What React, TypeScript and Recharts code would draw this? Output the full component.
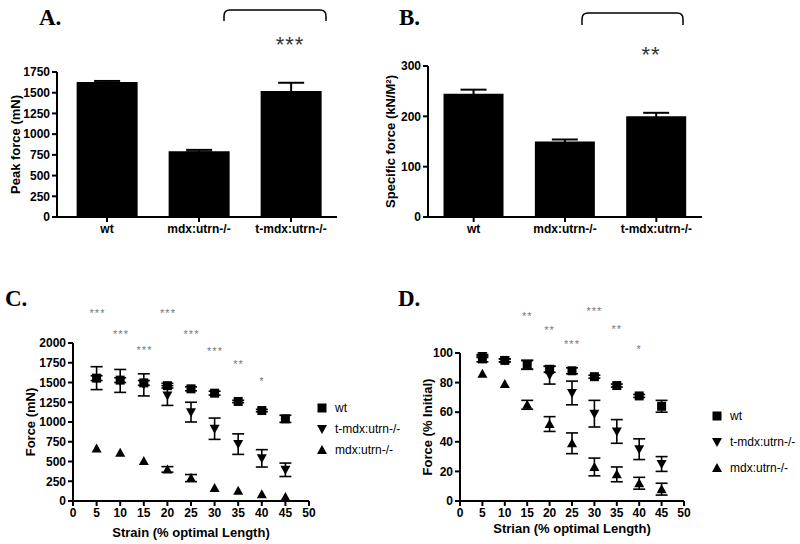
import React from "react";
import {
  BarChart,
  Bar,
  ScatterChart,
  Scatter,
  XAxis,
  YAxis,
  ErrorBar,
} from "recharts";

// panels A and B
const groups = ["wt", "mdx:utrn-/-", "t-mdx:utrn-/-"];
const peakForce = [1630, 795, 1520];
const peakForceErr = [12, 15, 100];
const specificForce = [245, 150, 200];
const specificForceErr = [8, 4, 7];

// panels C and D
const strain = [5, 10, 15, 20, 25, 30, 35, 40, 45];
const forceWt = [1555, 1530, 1495, 1460, 1420, 1365, 1260, 1145, 1040];
const forceWtErr = [30, 30, 30, 30, 25, 25, 15, 15, 45];
const forceTmdx = [1555, 1520, 1470, 1335, 1125, 915, 720, 540, 395];
const forceTmdxErr = [145, 145, 140, 125, 125, 135, 130, 110, 85];
const forceMdx = [665, 610, 505, 400, 290, 165, 130, 85, 50];
const forceMdxErr = [0, 0, 0, 35, 45, 0, 0, 0, 0];

const pctWt = [96, 95, 92, 89, 88, 84, 78, 71, 64];
const pctWtErr = [2, 1, 3, 2, 2, 1, 1, 1, 4];
const pctTmdx = [98, 95, 92, 85, 73, 59, 47, 35, 25];
const pctTmdxErr = [1, 1, 3, 6, 8, 9, 8, 7, 5];
const pctMdx = [86, 79, 65, 52, 39, 23, 18, 12, 8];
const pctMdxErr = [0, 0, 3, 5, 7, 6, 5, 4, 4];

const starsC = ["***", "***", "***", "***", "***", "***", "**", "*"];
const starsD = ["", "", "**", "**", "***", "***", "**", "*"];
const strainTicks = [0, 5, 10, 15, 20, 25, 30, 35, 40, 45, 50];

const FONT = "'Liberation Sans', Arial, sans-serif";
const tick = { fill: "#000", fontSize: 12, fontWeight: 700, fontFamily: FONT };
const axisLine = { stroke: "#000", strokeWidth: 2 };
const labelStyle = { fill: "#000", fontSize: 13, fontWeight: 700, fontFamily: FONT, textAnchor: "middle" as const };

const barA = groups.map((name, i) => ({ name, value: peakForce[i], err: peakForceErr[i] }));
const barB = groups.map((name, i) => ({ name, value: specificForce[i], err: specificForceErr[i] }));

const pts = (ys: number[], es: number[]) => strain.map((x, i) => ({ x, y: ys[i], err: es[i] }));

const Square = (p: any) => <rect x={p.cx - 4.5} y={p.cy - 4.5} width={9} height={9} fill="#000" />;
const Up = (p: any) => (
  <path d={`M${p.cx},${p.cy - 5}L${p.cx + 5},${p.cy + 4}L${p.cx - 5},${p.cy + 4}Z`} fill="#000" />
);
const Down = (p: any) => (
  <path d={`M${p.cx - 5},${p.cy - 4}L${p.cx + 5},${p.cy - 4}L${p.cx},${p.cy + 5}Z`} fill="#000" />
);

const PanelTitle = ({ text, left, top }: { text: string; left: number; top: number }) => (
  <div
    style={{
      position: "absolute",
      left,
      top,
      fontFamily: "'Liberation Serif', serif",
      fontWeight: 700,
      fontSize: 23,
      lineHeight: "23px",
    }}
  >
    {text}
  </div>
);

const Stars = ({ text, x, y, size, color }: { text: string; x: number; y: number; size: number; color: string }) => (
  <div
    style={{
      position: "absolute",
      left: x,
      top: y - size / 2,
      transform: "translateX(-50%)",
      fontFamily: FONT,
      fontSize: size,
      lineHeight: `${size}px`,
      color,
      letterSpacing: 1,
      whiteSpace: "nowrap",
    }}
  >
    {text}
  </div>
);

const Bracket = ({ x1, x2, y1, y2 }: { x1: number; x2: number; y1: number; y2: number }) => (
  <svg style={{ position: "absolute", left: 0, top: 0 }} width={800} height={40}>
    <path
      d={`M${x1},${y2}L${x1},${y1 + 6}Q${x1},${y1} ${x1 + 6},${y1}L${x2 - 6},${y1}Q${x2},${y1} ${x2},${y1 + 6}L${x2},${y2}`}
      fill="none"
      stroke="#000"
      strokeWidth={1.5}
    />
  </svg>
);

const LegendBox = ({ left, top, gap }: { left: number; top: number; gap: number }) => {
  const items = [
    { name: "wt", shape: Square },
    { name: "t-mdx:utrn-/-", shape: Down },
    { name: "mdx:utrn-/-", shape: Up },
  ];
  return (
    <div style={{ position: "absolute", left, top }}>
      {items.map((it, i) => (
        <div key={it.name} style={{ position: "absolute", top: i * gap, left: 0, display: "flex", alignItems: "center", whiteSpace: "nowrap" }}>
          <svg width={12} height={12}>
            {it.shape({ cx: 6, cy: 6 })}
          </svg>
          <span style={{ marginLeft: 7, fontFamily: FONT, fontSize: 12, lineHeight: "14px" }}>{it.name}</span>
        </div>
      ))}
    </div>
  );
};

const CurveChart = ({
  left,
  top,
  yWidth,
  right,
  marginTop,
  domain,
  ticks,
  yLabel,
  yLabelOffset,
  xLabel,
  xLabelOffset,
  series,
}: any) => (
  <div style={{ position: "absolute", left, top }}>
    <ScatterChart width={400} height={254} margin={{ top: marginTop, right, left: 0, bottom: 0 }}>
      <XAxis
        type="number"
        dataKey="x"
        domain={[0, 50]}
        ticks={strainTicks}
        interval={0}
        height={43}
        axisLine={axisLine}
        tickLine={axisLine}
        tickSize={5}
        tick={tick}
        label={{ value: xLabel, position: "insideBottom", offset: xLabelOffset, style: labelStyle }}
      />
      <YAxis
        type="number"
        dataKey="y"
        domain={domain}
        ticks={ticks}
        interval={0}
        width={yWidth}
        axisLine={axisLine}
        tickLine={axisLine}
        tickSize={5}
        tick={tick}
        label={{ value: yLabel, angle: -90, position: "insideLeft", offset: yLabelOffset, style: labelStyle }}
      />
      {series.map((s: any) => (
        <Scatter key={s.name} name={s.name} data={s.data} shape={s.shape} isAnimationActive={false}>
          <ErrorBar dataKey="err" direction="y" width={6} stroke="#000" strokeWidth={1.6} />
        </Scatter>
      ))}
    </ScatterChart>
  </div>
);

export default function App() {
  const cx = (x: number) => 74 + (x * (309 - 74)) / 50;
  const dx = (x: number) => 460 + (x * (684 - 460)) / 50;
  const levelsC = [313, 334, 350, 313, 334, 351, 364, 381];
  const levelsD = [0, 0, 316, 330, 344, 311, 329, 349];

  return (
    <div style={{ position: "absolute", left: 0, top: 0, width: 800, height: 544, background: "#fff", overflow: "hidden" }}>
      {/* A */}
      <div style={{ position: "absolute", left: 0, top: 0 }}>
        <BarChart width={345} height={260} data={barA} margin={{ top: 72, right: 8, left: 0, bottom: 0 }} barCategoryGap="17%">
          <XAxis dataKey="name" height={43} interval={0} axisLine={axisLine} tickLine={axisLine} tickSize={5} tick={tick} padding={{ left: 4, right: 0 }} />
          <YAxis
            width={57}
            domain={[0, 1750]}
            ticks={[0, 250, 500, 750, 1000, 1250, 1500, 1750]}
            interval={0}
            axisLine={axisLine}
            tickLine={axisLine}
            tickSize={5}
            tick={tick}
            label={{ value: "Peak force (mN)", angle: -90, position: "insideLeft", offset: 15, style: labelStyle }}
          />
          <Bar dataKey="value" fill="#000" isAnimationActive={false}>
            <ErrorBar dataKey="err" direction="y" width={13} stroke="#000" strokeWidth={2} />
          </Bar>
        </BarChart>
      </div>
      <PanelTitle text="A." left={39} top={6} />
      <Bracket x1={224} x2={326} y1={10} y2={21} />
      <Stars text="***" x={290} y={45} size={22} color="#333" />

      {/* B */}
      <div style={{ position: "absolute", left: 370, top: 0 }}>
        <BarChart width={340} height={260} data={barB} margin={{ top: 66, right: 8, left: 0, bottom: 0 }} barCategoryGap="17%">
          <XAxis dataKey="name" height={43} interval={0} axisLine={axisLine} tickLine={axisLine} tickSize={5} tick={tick} />
          <YAxis
            width={58}
            domain={[0, 300]}
            ticks={[0, 100, 200, 300]}
            interval={0}
            axisLine={axisLine}
            tickLine={axisLine}
            tickSize={5}
            tick={tick}
            label={{ value: "Specific force (kN/M²)", angle: -90, position: "insideLeft", offset: 20, style: labelStyle }}
          />
          <Bar dataKey="value" fill="#000" isAnimationActive={false}>
            <ErrorBar dataKey="err" direction="y" width={13} stroke="#000" strokeWidth={2} />
          </Bar>
        </BarChart>
      </div>
      <PanelTitle text="B." left={399} top={6} />
      <Bracket x1={582} x2={683} y1={13} y2={25} />
      <Stars text="**" x={651} y={55} size={22} color="#333" />

      {/* C */}
      <CurveChart
        left={0}
        top={290}
        yWidth={73}
        right={91}
        marginTop={53}
        domain={[0, 2000]}
        ticks={[0, 250, 500, 750, 1000, 1250, 1500, 1750, 2000]}
        yLabel="Force (mN)"
        yLabelOffset={30}
        xLabel="Strain (% optimal Length)"
        xLabelOffset={7}
        series={[
          { name: "t-mdx:utrn-/-", data: pts(forceTmdx, forceTmdxErr), shape: Down },
          { name: "mdx:utrn-/-", data: pts(forceMdx, forceMdxErr), shape: Up },
          { name: "wt", data: pts(forceWt, forceWtErr), shape: Square },
        ]}
      />
      <PanelTitle text="C." left={5} top={287} />
      {starsC.map((s, i) => (
        <Stars key={"c" + i} text={s} x={cx(strain[i])} y={levelsC[i]} size={11} color="#777" />
      ))}
      <LegendBox left={316} top={401} gap={21} />

      {/* D */}
      <CurveChart
        left={400}
        top={290}
        yWidth={60}
        right={116}
        marginTop={63}
        domain={[0, 100]}
        ticks={[0, 20, 40, 60, 80, 100]}
        yLabel="Force (% Initial)"
        yLabelOffset={27}
        xLabel="Strian (% optimal Length)"
        xLabelOffset={11}
        series={[
          { name: "t-mdx:utrn-/-", data: pts(pctTmdx, pctTmdxErr), shape: Down },
          { name: "mdx:utrn-/-", data: pts(pctMdx, pctMdxErr), shape: Up },
          { name: "wt", data: pts(pctWt, pctWtErr), shape: Square },
        ]}
      />
      <PanelTitle text="D." left={398} top={287} />
      {starsD.map((s, i) =>
        s ? <Stars key={"d" + i} text={s} x={dx(strain[i])} y={levelsD[i]} size={11} color="#777" /> : null
      )}
      <LegendBox left={711} top={409} gap={26} />
    </div>
  );
}
